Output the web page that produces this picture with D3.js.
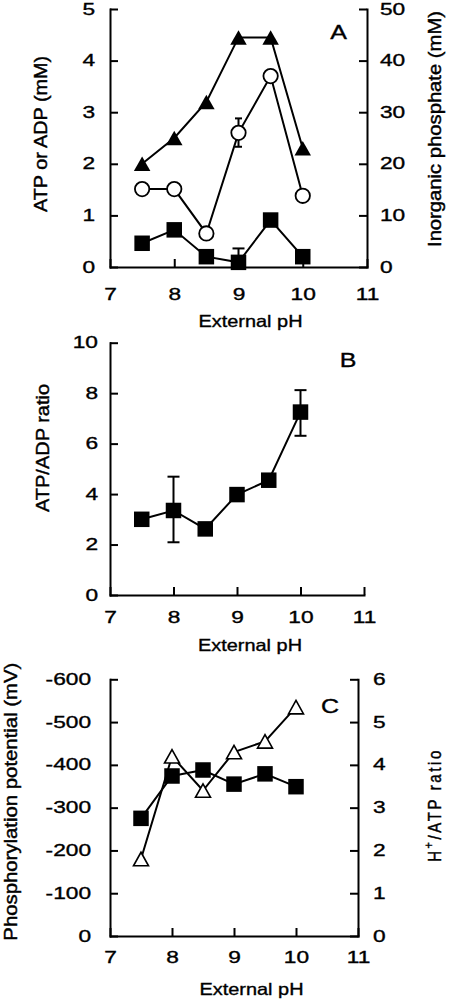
<!DOCTYPE html>
<html><head><meta charset="utf-8">
<script src="https://cdn.jsdelivr.net/npm/d3@7"></script>
<style>
body{margin:0;background:#fff}
text{font-family:"Liberation Sans",Arial,Helvetica,sans-serif;fill:#000;stroke:#000;stroke-width:0.35px}
</style>
</head><body>
<svg id="chart" width="450" height="1002"></svg>
<script>
// ---------- data ----------
const pH = [7.5, 8, 8.5, 9, 9.5, 10];
const xTicks = [7, 8, 9, 10, 11];

// Panel A
const atpA = [2.0, 2.5, 3.2, 4.45, 4.45, 2.3];       // filled triangles, left axis (mM)
const adpA = [0.46, 0.72, 0.2, 0.09, 0.91, 0.2];     // filled squares, left axis (mM)
const piA = [15.1, 15.1, 6.5, 26, 37, 13.8];         // open circles, right axis (mM)
const piErrA = [{x: 9, lo: 23.3, hi: 28.8}];
const adpErrA = [{x: 9, lo: 0.09, hi: 0.36}];
const yTicksA = [0, 1, 2, 3, 4, 5];
const y2TicksA = [0, 10, 20, 30, 40, 50];

// Panel B
const ratioB = [3.0, 3.35, 2.62, 3.98, 4.55, 7.25];
const ratioErrB = [{x: 8, lo: 2.09, hi: 4.69}, {x: 10, lo: 6.31, hi: 8.12}];
const yTicksB = [0, 2, 4, 6, 8, 10];

// Panel C
const potentialC = [-275, -374, -388, -355, -379, -349]; // filled squares, left (mV)
const hAtpC = [1.8, 4.2, 3.4, 4.3, 4.55, 5.35];           // open triangles, right
const yTicksC = [0, -100, -200, -300, -400, -500, -600];
const y2TicksC = [0, 1, 2, 3, 4, 5, 6];

// ---------- helpers ----------
const svg = d3.select("#chart");
const SW = 2;
const TS = 1.42; // horizontal stretch of tick labels

function styleTicks(g) {
  g.attr("font-family", null).attr("font-size", null);
  g.selectAll("text").attr("font-size", 16)
    .each(function () {
      const t = d3.select(this);
      const x0 = +t.attr("x") || 0;
      t.attr("x", x0 / TS).attr("transform", `scale(${TS},1)`);
    });
  g.selectAll("line,path").attr("stroke", "#000").attr("stroke-width", SW);
  g.select(".domain").attr("stroke-linecap", "square");
}

function label(x, y, str, opts) {
  const t = svg.append("text").attr("font-size", opts.size || 16)
    .attr("text-anchor", opts.anchor || "middle");
  const sx = opts.sx || 1;
  if (opts.rotate) t.attr("transform", `translate(${x},${y}) scale(${sx},1) rotate(-90)`);
  else t.attr("transform", `translate(${x},${y}) scale(${sx},1)`);
  if (opts.parts) {
    opts.parts.forEach(p => {
      const s = t.append("tspan").text(p.t);
      if (p.sup) s.attr("font-size", 11).attr("dy", -7);
      if (p.down) s.attr("dy", 7);
    });
  } else t.text(str);
  if (opts.len) t.attr("textLength", opts.len).attr("lengthAdjust", "spacingAndGlyphs");
  if (opts.ls) t.attr("letter-spacing", opts.ls);
  return t;
}

function xAxis(x, yPos, pad) {
  const g = svg.append("g").attr("transform", `translate(0,${yPos})`)
    .call(d3.axisBottom(x).tickValues(xTicks).tickFormat(d3.format("d"))
      .tickSize(-8).tickSizeOuter(0).tickPadding(pad));
  styleTicks(g);
}
function yAxisLeft(y, xPos, ticks, pad) {
  const g = svg.append("g").attr("transform", `translate(${xPos},0)`)
    .call(d3.axisLeft(y).tickValues(ticks).tickFormat(d => String(d))
      .tickSize(-8).tickSizeOuter(0).tickPadding(pad));
  styleTicks(g);
}
function yAxisRight(y, xPos, ticks, pad) {
  const g = svg.append("g").attr("transform", `translate(${xPos},0)`)
    .call(d3.axisRight(y).tickValues(ticks).tickFormat(d => String(d))
      .tickSize(-8).tickSizeOuter(0).tickPadding(pad));
  styleTicks(g);
}

function series(x, y, vals, marker) {
  const pts = pH.map((p, i) => [x(p), y(vals[i])]);
  svg.append("path").attr("d", d3.line()(pts)).attr("fill", "none")
    .attr("stroke", "#000").attr("stroke-width", SW).attr("stroke-linejoin", "miter");
  const g = svg.append("g");
  pts.forEach(([cx, cy]) => {
    if (marker === "square") {
      const s = 15.5;
      g.append("rect").attr("x", cx - s / 2).attr("y", cy - s / 2).attr("width", s).attr("height", s).attr("fill", "#000");
    } else if (marker === "circle") {
      g.append("circle").attr("cx", cx).attr("cy", cy).attr("r", 7.2)
        .attr("fill", "#fff").attr("stroke", "#000").attr("stroke-width", 1.8);
    } else if (marker === "triFilled") {
      const w = 16.5, h = 14.5;
      g.append("path").attr("d", `M${cx},${cy - h / 2}L${cx + w / 2},${cy + h / 2}L${cx - w / 2},${cy + h / 2}Z`).attr("fill", "#000");
    } else if (marker === "triOpen") {
      const w = 15, h = 13.5;
      g.append("path").attr("d", `M${cx},${cy - h / 2}L${cx + w / 2},${cy + h / 2}L${cx - w / 2},${cy + h / 2}Z`)
        .attr("fill", "#fff").attr("stroke", "#000").attr("stroke-width", 1.6).attr("stroke-linejoin", "miter");
    }
  });
}

function errBars(x, y, errs, cap) {
  errs.forEach(e => {
    const cx = x(e.x);
    svg.append("line").attr("x1", cx).attr("x2", cx).attr("y1", y(e.lo)).attr("y2", y(e.hi))
      .attr("stroke", "#000").attr("stroke-width", SW);
    [e.lo, e.hi].forEach(v => svg.append("line").attr("x1", cx - cap / 2).attr("x2", cx + cap / 2)
      .attr("y1", y(v)).attr("y2", y(v)).attr("stroke", "#000").attr("stroke-width", SW));
  });
}

// ---------- Panel A ----------
{
  const x = d3.scaleLinear().domain([7, 11]).range([110, 367]);
  const y = d3.scaleLinear().domain([0, 5]).range([267, 9]);
  const y2 = d3.scaleLinear().domain([0, 50]).range([267, 9]);
  xAxis(x, 267, 21.6);
  yAxisLeft(y, 110, yTicksA, 15);
  yAxisRight(y2, 367, y2TicksA, 13);
  errBars(x, y, adpErrA, 12);
  errBars(x, y2, piErrA, 7);
  series(x, y, atpA, "triFilled");
  series(x, y, adpA, "square");
  series(x, y2, piA, "circle");
  label(338.5, 39.3, "A", {size: 20, sx: 1.25});
  label(47, 134, "ATP or ADP (mM)", {rotate: true, size: 15, sx: 1.2, len: 156});
  label(441, 129, "Inorganic phosphate (mM)", {rotate: true, size: 15, sx: 1.2, len: 236});
  label(250.5, 326.7, "External pH", {size: 16.5, len: 104});
}

// ---------- Panel B ----------
{
  const x = d3.scaleLinear().domain([7, 11]).range([110, 364]);
  const y = d3.scaleLinear().domain([0, 10]).range([595, 342.7]);
  xAxis(x, 595, 16.9);
  yAxisLeft(y, 110, yTicksB, 12);
  errBars(x, y, ratioErrB, 12);
  series(x, y, ratioB, "square");
  label(348, 366.7, "B", {size: 20, sx: 1.25});
  label(49, 448, "ATP/ADP ratio", {rotate: true, size: 15, sx: 1.2, len: 128});
  label(250, 650.5, "External pH", {size: 16.5, len: 104});
}

// ---------- Panel C ----------
{
  const x = d3.scaleLinear().domain([7, 11]).range([110, 358]);
  const y = d3.scaleLinear().domain([0, -600]).range([936, 679.3]);
  const y2 = d3.scaleLinear().domain([0, 6]).range([936, 679.3]);
  xAxis(x, 936, 15.9);
  yAxisLeft(y, 110, yTicksC, 19);
  yAxisRight(y2, 358, y2TicksC, 15);
  series(x, y, potentialC, "square");
  series(x, y2, hAtpC, "triOpen");
  label(330, 713.3, "C", {size: 20, sx: 1.25});
  label(17, 801.7, "Phosphorylation  potential  (mV)", {rotate: true, size: 15, sx: 1.2, len: 278});
  label(441, 805, "", {rotate: true, size: 15, sx: 1.2, ls: 2.6,
    parts: [{t: "H"}, {t: "+", sup: true}, {t: "/ATP  ratio", down: true}]});
  label(251.5, 995, "External pH", {size: 16.5, len: 104});
}
</script>
</body></html>
